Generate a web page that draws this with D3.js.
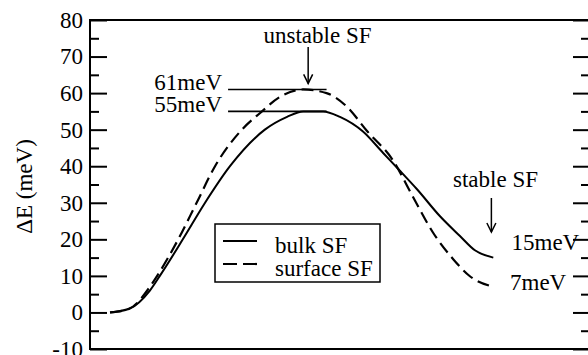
<!DOCTYPE html>
<html>
<head>
<meta charset="utf-8">
<script src="https://cdn.jsdelivr.net/npm/d3@7"></script>
<style>
  html, body { margin: 0; padding: 0; background: #fff; }
  svg { display: block; }
</style>
</head>
<body>
<svg id="chart" width="588" height="355"></svg>
<script>
// Reaction coordinate (0 = start, 1 = end) and energy (meV) along the path
const bulkX = [0, 0.050, 0.104, 0.130, 0.190, 0.248, 0.313, 0.404, 0.462, 0.504, 0.556, 0.600, 0.660, 0.712, 0.757, 0.801, 0.861, 0.913, 0.952, 1.0];
const bulkE = [0, 1.0, 6.0, 10, 20, 30, 40, 50, 53.5, 55, 55, 53.5, 49.5, 43.7, 38.7, 33.7, 26.3, 20.9, 17.0, 15];

const surfX = [0, 0.050, 0.104, 0.123, 0.178, 0.226, 0.274, 0.344, 0.391, 0.444, 0.504, 0.565, 0.618, 0.670, 0.739, 0.791, 0.843, 0.896, 0.939, 1.0];
const surfE = [0, 1.0, 7.0, 10, 20, 30, 40, 50, 54.5, 59, 61, 60, 56.3, 49.7, 41.5, 31.5, 21.8, 14.5, 9.9, 7];

const majorTicks = [-10, 0, 10, 20, 30, 40, 50, 60, 70, 80];
const minorTicks = [-5, 5, 15, 25, 35, 45, 55, 65, 75];

const seriesNames = ["bulk SF", "surface SF"];
const barrierBulk = 55, barrierSurf = 61;
const finalBulk = 15, finalSurf = 7;

const FONT = "'Liberation Serif', Tinos, 'Times New Roman', Times, serif";
const FONT_SIZE = "23px";

const svg = d3.select("#chart");
const plotLeft = 90, plotRight = 590, plotTop = 20, plotBottom = 349;

const x = d3.scaleLinear().domain([-0.0522, 1.2523]).range([plotLeft, plotRight]);
const y = d3.scaleLinear().domain([-10, 80]).range([plotBottom, plotTop]);

function label(sel) {
  return sel.style("font-family", FONT).style("font-size", FONT_SIZE).attr("fill", "#000");
}

// frame
svg.append("rect")
  .attr("x", plotLeft).attr("y", plotTop)
  .attr("width", plotRight - plotLeft).attr("height", plotBottom - plotTop)
  .attr("fill", "none").attr("stroke", "#000").attr("stroke-width", 2);

function styleAxis(g) {
  g.select(".domain").remove();
  g.selectAll(".tick line").attr("stroke", "#000").attr("stroke-width", 2);
}

// left axis: major ticks with labels, minor ticks without
svg.append("g").attr("transform", `translate(${plotLeft},0)`)
  .call(d3.axisLeft(y).tickValues(majorTicks).tickSizeInner(-17).tickSizeOuter(0).tickPadding(7).tickFormat(d => String(d)))
  .call(styleAxis)
  .call(g => label(g.selectAll("text")));
svg.append("g").attr("transform", `translate(${plotLeft},0)`)
  .call(d3.axisLeft(y).tickValues(minorTicks).tickSizeInner(-9).tickSizeOuter(0).tickFormat(""))
  .call(styleAxis);

// right axis mirrors the ticks
svg.append("g").attr("transform", `translate(${plotRight},0)`)
  .call(d3.axisRight(y).tickValues(majorTicks).tickSizeInner(-17).tickSizeOuter(0).tickFormat(""))
  .call(styleAxis);
svg.append("g").attr("transform", `translate(${plotRight},0)`)
  .call(d3.axisRight(y).tickValues(minorTicks).tickSizeInner(-9).tickSizeOuter(0).tickFormat(""))
  .call(styleAxis);

// y title
svg.append("text")
  .attr("transform", `translate(32,${(plotTop + plotBottom) / 2 + 2}) rotate(-90)`)
  .attr("text-anchor", "middle")
  .call(label)
  .text("ΔE (meV)");

// energy curves
const line = d3.line().x(d => x(d[0])).y(d => y(d[1])).curve(d3.curveMonotoneX);
const bulk = bulkX.map((v, i) => [v, bulkE[i]]);
const surf = surfX.map((v, i) => [v, surfE[i]]);

svg.append("path").datum(bulk)
  .attr("d", line).attr("fill", "none").attr("stroke", "#000").attr("stroke-width", 2);
svg.append("path").datum(surf)
  .attr("d", line).attr("fill", "none").attr("stroke", "#000").attr("stroke-width", 2.2)
  .attr("stroke-dasharray", "12,6");

// barrier markers
const levelX0 = x(0.308), levelX1 = x(0.565);
[[barrierSurf, "61meV"], [barrierBulk, "55meV"]].forEach(([v, txt]) => {
  svg.append("line")
    .attr("x1", levelX0).attr("x2", levelX1)
    .attr("y1", y(v)).attr("y2", y(v))
    .attr("stroke", "#000").attr("stroke-width", 1.6);
  svg.append("text")
    .attr("x", levelX0 - 6).attr("y", y(v) + 1)
    .attr("text-anchor", "end")
    .call(label)
    .text(txt);
});

// downward arrow helper
function arrow(cx, y0, y1) {
  svg.append("line").attr("x1", cx).attr("x2", cx).attr("y1", y0).attr("y2", y1)
    .attr("stroke", "#000").attr("stroke-width", 1.5);
  svg.append("path")
    .attr("d", `M${cx - 4.5},${y1 - 9}L${cx},${y1}L${cx + 4.5},${y1 - 9}`)
    .attr("fill", "none").attr("stroke", "#000").attr("stroke-width", 1.5);
}

// saddle point annotation
svg.append("text").attr("x", 317.5).attr("y", 43).attr("text-anchor", "middle").call(label).text("unstable SF");
arrow(x(0.517), 47, y(barrierSurf) - 6);

// end state annotation
svg.append("text").attr("x", 453).attr("y", 187).call(label).text("stable SF");
arrow(x(0.995), 198, 232);
svg.append("text").attr("x", 511.5).attr("y", y(finalBulk) - 8).call(label).text(finalBulk + "meV");
svg.append("text").attr("x", 510).attr("y", y(finalSurf) + 3).call(label).text(finalSurf + "meV");

// legend
const lg = svg.append("g");
lg.append("rect").attr("x", 215).attr("y", 224).attr("width", 165).attr("height", 58)
  .attr("fill", "#fff").attr("stroke", "#000").attr("stroke-width", 1.5);
seriesNames.forEach((name, i) => {
  const yy = 241 + i * 23;
  lg.append("line").attr("x1", 223).attr("x2", 257).attr("y1", yy).attr("y2", yy)
    .attr("stroke", "#000").attr("stroke-width", i ? 2.2 : 2)
    .attr("stroke-dasharray", i ? "14,6" : null);
  lg.append("text").attr("x", 275).attr("y", yy + 12).call(label).text(name);
});
</script>
</body>
</html>
